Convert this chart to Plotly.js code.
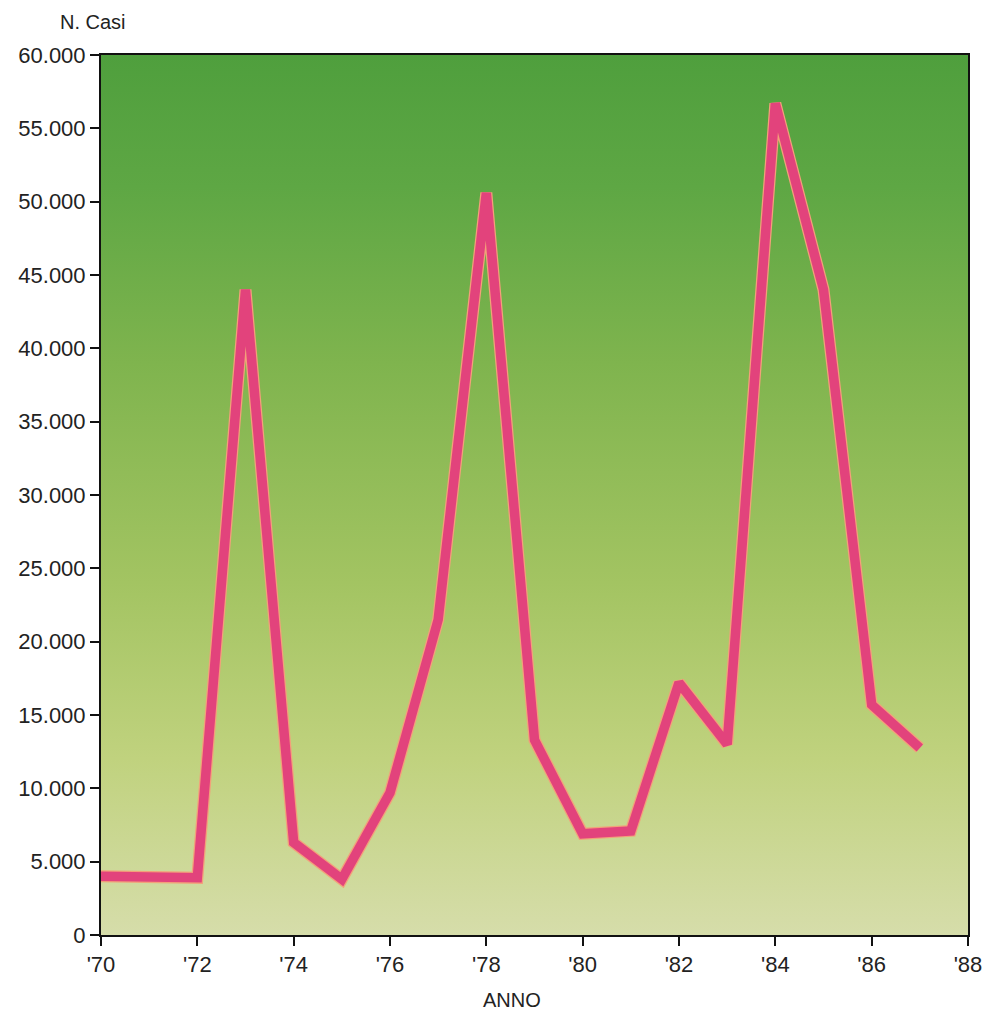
<!DOCTYPE html>
<html>
<head>
<meta charset="utf-8">
<script src="https://cdn.plot.ly/plotly-3.0.1.min.js"></script>
<style>html,body{margin:0;padding:0;background:#fff;}#chart{width:986px;height:1014px;}</style>
</head>
<body>
<div id="chart"></div>
<script>
// Data
const years = [1970, 1971, 1972, 1973, 1974, 1975, 1976, 1977, 1978, 1979, 1980, 1981, 1982, 1983, 1984, 1985, 1986, 1987];
const cases = [4000, 3950, 3900, 44000, 6300, 3800, 9700, 21500, 50600, 13300, 6900, 7100, 17200, 13000, 56700, 44000, 15700, 12750];
const xTickVals = [1970, 1972, 1974, 1976, 1978, 1980, 1982, 1984, 1986, 1988];
const xTickText = ["'70", "'72", "'74", "'76", "'78", "'80", "'82", "'84", "'86", "'88"];
const yTickVals = [0, 5000, 10000, 15000, 20000, 25000, 30000, 35000, 40000, 45000, 50000, 55000, 60000];
const xRange = [1970, 1988];
const yRange = [0, 60000];

const font = "Liberation Sans, Arial, Helvetica, sans-serif";

const bg = {
  x: xRange, y: [yRange[1], yRange[1]],
  type: 'scatter', mode: 'none', fill: 'tozeroy',
  fillgradient: {
    type: 'vertical', start: yRange[0], stop: yRange[1],
    colorscale: [[0, '#d6ddaa'], [0.2, '#c0d27e'], [0.4, '#a3c462'], [0.65, '#7fb44e'], [0.85, '#5ea744'], [1, '#4f9f3d']]
  },
  hoverinfo: 'skip', showlegend: false
};
const glow = {
  x: years, y: cases, type: 'scatter', mode: 'lines',
  line: {color: '#f3a07a', width: 12, shape: 'linear'},
  hoverinfo: 'skip', showlegend: false
};
const line = {
  x: years, y: cases, type: 'scatter', mode: 'lines',
  line: {color: '#e2437c', width: 9.5},
  showlegend: false
};

const layout = {
  width: 986, height: 1014,
  margin: {l: 101, r: 18, t: 55, b: 79},
  paper_bgcolor: '#ffffff', plot_bgcolor: '#ffffff',
  separators: ',.',
  font: {family: font, color: '#222', size: 22},
  showlegend: false,
  xaxis: {
    range: xRange, tickvals: xTickVals, ticktext: xTickText,
    showgrid: false, zeroline: false,
    showline: true, linecolor: '#111', linewidth: 2, mirror: true,
    ticks: 'outside', ticklen: 9, tickwidth: 2, tickcolor: '#111',
    tickfont: {family: font, size: 22, color: '#222'}
  },
  yaxis: {
    range: yRange, tickvals: yTickVals, tickformat: ',d',
    showgrid: false, zeroline: false,
    showline: true, linecolor: '#111', linewidth: 2, mirror: true,
    ticks: 'outside', ticklen: 9, tickwidth: 2, tickcolor: '#111',
    tickfont: {family: font, size: 22, color: '#222'}
  },
  annotations: [
    {text: 'N. Casi', xref: 'paper', yref: 'paper', x: -0.05, y: 1.0, yshift: 33,
     xanchor: 'left', yanchor: 'middle', showarrow: false,
     font: {family: font, size: 20, color: '#222'}},
    {text: 'ANNO', xref: 'paper', yref: 'paper', x: 0.474, y: 0, yshift: -65,
     xanchor: 'center', yanchor: 'middle', showarrow: false,
     font: {family: font, size: 20, color: '#222'}}
  ]
};

Plotly.newPlot('chart', [bg, glow, line], layout, {displayModeBar: false, staticPlot: true});
</script>
</body>
</html>
